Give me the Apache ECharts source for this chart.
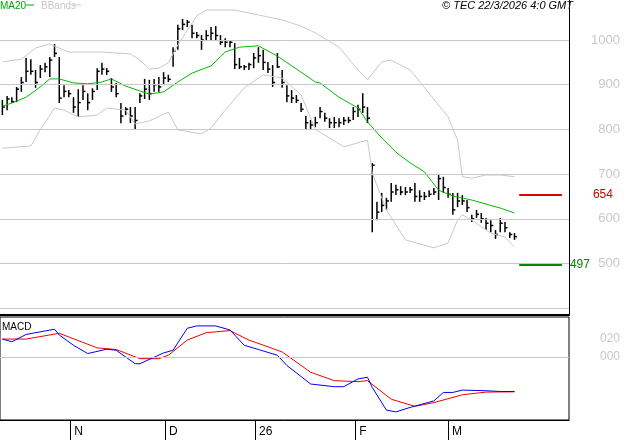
<!DOCTYPE html>
<html>
<head>
<meta charset="utf-8">
<script src="https://cdn.jsdelivr.net/npm/echarts@6/dist/echarts.min.js"></script>
<style>html,body{margin:0;padding:0;background:#fff}#chart{width:627px;height:440px}</style>
</head>
<body>
<div id="chart"></div>
<script>
// daily bars (high / low / close)
const highs = [866,875,872,895,917,960,957,933,944,949,962,991,962,899,888,872,890,899,881,892,
  937,949,937,915,904,859,850,850,850,881,913,911,913,917,928,922,984,1034,1047,1045,
  1034,1018,1011,1022,1029,1031,1011,1004,1000,993,960,944,949,971,984,978,951,944,971,933,
  899,888,877,859,830,821,828,850,837,825,828,825,828,828,850,855,881,850,725,638,
  658,647,680,676,673,671,671,680,664,660,664,669,698,694,669,658,658,653,642,609,
  620,613,602,597,575,602,593,570,568];
const lows = [832,843,859,861,884,906,922,893,915,928,917,962,859,872,872,837,828,866,843,866,
  888,922,922,884,872,814,832,814,801,859,868,866,884,884,899,906,940,978,1022,1029,
  1004,1004,978,1000,1000,1000,989,984,984,935,935,933,933,937,949,933,926,895,937,893,
  861,859,859,839,801,801,805,825,817,803,803,805,810,814,821,828,837,814,570,597,
  615,620,638,653,653,653,658,638,638,642,649,653,642,658,647,609,626,631,615,593,
  602,591,575,570,555,570,570,557,553];
const closes = [850,868,862,890,905,930,930,905,935,940,955,970,870,885,880,850,860,885,860,885,
  930,935,930,895,880,830,845,830,820,875,890,880,900,895,915,912,975,1025,1035,1040,
  1015,1010,1000,1010,1015,1010,995,995,995,945,940,940,945,960,965,950,935,905,940,905,
  875,870,865,845,815,810,815,840,825,815,815,815,820,820,840,845,850,825,720,615,
  630,640,660,665,660,660,665,650,650,650,655,660,690,670,655,620,640,640,625,600,
  610,600,590,585,565,590,580,565,560];

// MA20 and Bollinger bands, read at some bar numbers
const maDay = [0,2,5,8,10,12,15,18,21,23,26,29,31,34,37,40,44,47,50,54,58,63,66,67,71,75,77,80,83,86,89,92,95,99,102,105,108];
const ma20 = [852,859,872,895,913,913,904,902,906,913,897,886,879,884,906,926,942,973,984,987,964,928,906,904,872,848,817,781,749,725,705,664,651,642,633,624,613];
const upDay = [0,4,7,10,14,21,27,29,31,33,35,37,41,43,49,54,59,63,66,71,75,77,80,82,86,90,94,96,97,99,102,105,108];
const upper = [951,957,982,991,973,973,969,955,935,937,949,989,1054,1067,1067,1056,1045,1031,1016,984,933,911,951,955,933,881,828,776,694,691,698,698,694];
const loDay = [0,6,8,11,13,16,20,22,26,28,31,35,37,42,44,47,51,55,59,63,66,72,77,78,81,85,91,94,96,97,99,103,106,108];
const lower = [758,763,799,848,843,828,832,848,843,812,819,839,799,790,803,843,893,922,915,877,800,761,776,702,620,553,535,546,597,609,597,568,559,537];

// MACD (blue) and signal (red)
const macdDay = [0,2,5,11,12,15,18,22,24,28,29,34,36,39,41,45,48,51,54,58,60,65,70,72,75,77,78,81,83,86,91,93,95,97,102,105,108];
const macd = [19.9,16.9,25,30.8,24.4,13,3.8,8.6,7.5,-7.5,-7.5,4.5,7.5,31.9,34.5,34.5,30,13,8.3,1.9,-9.4,-30,-33,-33,-24.4,-22.5,-33.8,-59,-61,-56,-48.8,-39.4,-39.4,-36.8,-37.5,-38.3,-38.3];
const sigDay = [0,5,12,20,24,29,33,35,39,43,48,52,59,65,70,75,77,82,87,91,97,102,108];
const signal = [19.9,19.9,26.3,10.1,8.3,-1.9,-1.9,1.9,18.8,27,29.3,18.8,5.6,-16.9,-26.3,-27.4,-26.3,-46.9,-54.8,-50.7,-42,-39,-38.7];

const priceTicks = [500,600,700,800,900,1000];
const gridLevels = [400,500,600,700,800,900,1000];
const resistance = 654;
const support = 497;
const monthTicks = [14.3,34.3,53.3,74.4,94];
const monthLabels = ['N','D','26','F','M'];

const font = 'Liberation Sans';
const zip = (a, b) => a.map((v, i) => [v, b[i]]);

const chart = echarts.init(document.getElementById('chart'));

const option = {
    animation: false,
    textStyle: {fontFamily: font},
    grid: [
        {left: 0, top: 0, width: 569, height: 315},
        {left: 0, top: 317, width: 569, height: 103, show: true, borderColor: '#000', borderWidth: 1}
    ],
    xAxis: [
        {gridIndex: 0, type: 'value', min: -0.5, max: 119.5,
            axisLine: {show: true, onZero: false, lineStyle: {color: '#000', width: 2}},
            axisTick: {show: false}, axisLabel: {show: false}, splitLine: {show: false}},
        {gridIndex: 1, type: 'value', min: -0.5, max: 119.5,
            axisLine: {show: true, onZero: false, lineStyle: {color: '#000'}},
            axisTick: {show: true, length: 20, customValues: monthTicks, lineStyle: {color: '#000'}},
            axisLabel: {show: true, customValues: monthTicks, align: 'left', margin: 6, padding: [0, 0, 0, 4],
                color: '#000', fontSize: 12,
                formatter: v => monthLabels[monthTicks.indexOf(v)] || ''},
            splitLine: {show: false}}
    ],
    yAxis: [
        {gridIndex: 0, type: 'value', position: 'right', min: 384.8, max: 1089.5,
            axisLine: {show: true, onZero: false, lineStyle: {color: '#000'}}, axisTick: {show: false},
            axisLabel: {customValues: priceTicks, color: '#c8c8c8', fontSize: 13, align: 'right', margin: 51,
                padding: [10, 0, 0, 0], formatter: v => String(v)},
            splitLine: {show: false}},
        {gridIndex: 1, type: 'value', position: 'right', min: -70, max: 44.4,
            axisLine: {show: false, onZero: false}, axisTick: {show: false},
            axisLabel: {customValues: [0, 20], color: '#c8c8c8', fontSize: 12, align: 'right', margin: 51,
                padding: [14, 0, 0, 0], formatter: v => v === 0 ? '000' : '020'},
            splitLine: {show: false}}
    ],
    series: [
        {
            // price grid lines and the two levels
            type: 'line', xAxisIndex: 0, yAxisIndex: 0, data: [], silent: true,
            markLine: {
                silent: true, symbol: 'none', animation: false,
                data: gridLevels.map(v => ({yAxis: v, lineStyle: {color: '#c8c8c8', width: 1, type: 'solid'}, label: {show: false}})).concat([
                    [{coord: [109, resistance], lineStyle: {color: '#dd0000', width: 2, type: 'solid'},
                        label: {show: true, position: 'end', formatter: String(resistance), color: '#cc0000', fontSize: 12, distance: 31}},
                     {coord: [118, resistance]}],
                    [{coord: [109, support], lineStyle: {color: '#008800', width: 2, type: 'solid'},
                        label: {show: true, position: 'end', formatter: String(support), color: '#008800', fontSize: 12, distance: 8}},
                     {coord: [118, support]}]
                ])
            }
        },
        {
            name: 'BBands up', type: 'line', xAxisIndex: 0, yAxisIndex: 0, data: zip(upDay, upper),
            showSymbol: false, silent: true, lineStyle: {color: '#c8c8c8', width: 1}
        },
        {
            name: 'BBands low', type: 'line', xAxisIndex: 0, yAxisIndex: 0, data: zip(loDay, lower),
            showSymbol: false, silent: true, lineStyle: {color: '#c8c8c8', width: 1}
        },
        {
            name: 'MA20', type: 'line', xAxisIndex: 0, yAxisIndex: 0, data: zip(maDay, ma20),
            showSymbol: false, silent: true, lineStyle: {color: '#00bb00', width: 1}
        },
        {
            name: 'bars', type: 'custom', xAxisIndex: 0, yAxisIndex: 0,
            data: highs.map((h, i) => [i, h, lows[i], closes[i]]),
            encode: {x: 0, y: [1, 2]},
            renderItem: function (params, api) {
                const x = api.value(0);
                const top = api.coord([x, api.value(1)]);
                const bot = api.coord([x, api.value(2)]);
                const c = api.coord([x, api.value(3)]);
                return {
                    type: 'group',
                    children: [
                        {type: 'line', shape: {x1: top[0], y1: top[1], x2: bot[0], y2: bot[1]}, style: {stroke: '#000', lineWidth: 1.5}},
                        {type: 'line', shape: {x1: c[0], y1: c[1], x2: c[0] + 2.5, y2: c[1]}, style: {stroke: '#000', lineWidth: 1.5}}
                    ]
                };
            }
        },
        {
            type: 'line', xAxisIndex: 1, yAxisIndex: 1, data: [], silent: true,
            markLine: {silent: true, symbol: 'none', data: [{yAxis: 0}], label: {show: false},
                lineStyle: {color: '#c8c8c8', width: 1, type: 'solid'}}
        },
        {
            name: 'signal', type: 'line', xAxisIndex: 1, yAxisIndex: 1, data: zip(sigDay, signal),
            showSymbol: false, silent: true, lineStyle: {color: '#ee0000', width: 1}
        },
        {
            name: 'MACD', type: 'line', xAxisIndex: 1, yAxisIndex: 1, data: zip(macdDay, macd),
            showSymbol: false, silent: true, lineStyle: {color: '#0000ee', width: 1}
        }
    ],
    graphic: [
        {type: 'text', left: 0, top: 1, style: {text: 'MA20', fill: '#00aa00', font: '10px ' + font}},
        {type: 'line', shape: {x1: 26, y1: 5, x2: 34, y2: 5}, style: {stroke: '#00aa00', lineWidth: 1}},
        {type: 'text', left: 41, top: 1, style: {text: 'BBands', fill: '#c8c8c8', font: '10px ' + font}},
        {type: 'line', shape: {x1: 73, y1: 5, x2: 81, y2: 5}, style: {stroke: '#c8c8c8', lineWidth: 1}},
        {type: 'text', right: 54, top: 0, style: {text: '© TEC 22/3/2026 4:0 GMT', fill: '#000', font: 'italic 11px ' + font}},
        {type: 'text', left: 2, top: 322, style: {text: 'MACD', fill: '#000', font: '10px ' + font}}
    ]
};

chart.setOption(option);
</script>
</body>
</html>
